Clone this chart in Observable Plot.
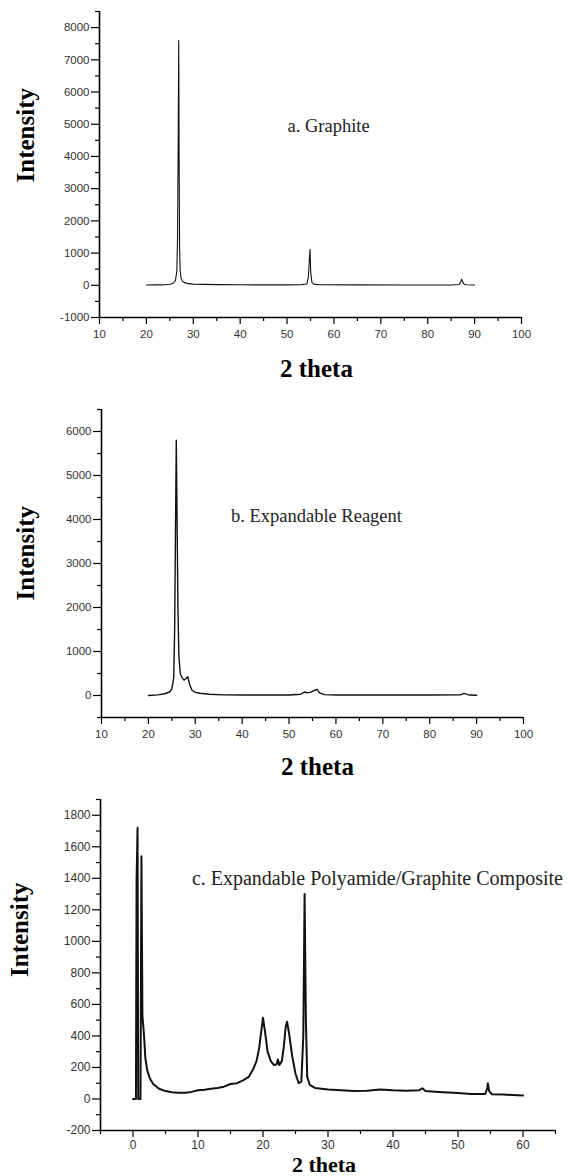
<!DOCTYPE html>
<html><head><meta charset="utf-8">
<script src="https://cdn.jsdelivr.net/npm/d3@7"></script>
<script src="https://cdn.jsdelivr.net/npm/@observablehq/plot@0.6"></script>
<style>
html,body{margin:0;padding:0;background:#fff;}
#chart{width:571px;}
#chart svg{display:block;}
g[aria-label="x-axis tick label"], g[aria-label="y-axis tick label"]{fill:#333;}
</style></head><body><div id="chart"></div>
<script>
// ---- Panel a: Graphite ----
const thetaA = [20, 22, 24, 25, 25.8, 26.2, 26.5, 26.65, 26.78, 26.9, 26.98, 27.08, 27.2, 27.4, 27.65, 28, 28.6, 30, 35, 40, 45, 50, 53, 54.2, 54.55, 54.75, 54.9, 55.05, 55.3, 55.7, 57, 65, 75, 85, 86.7, 87.0, 87.25, 87.45, 87.7, 88.2, 90];
const intensityA = [10, 12, 18, 30, 70, 150, 450, 1500, 4500, 7600, 4000, 1200, 450, 220, 140, 90, 60, 35, 20, 15, 12, 12, 15, 40, 250, 800, 1120, 400, 90, 35, 18, 12, 10, 10, 25, 90, 190, 110, 40, 15, 10];
const xTicksA = [10, 20, 30, 40, 50, 60, 70, 80, 90, 100];
const xMinorA = [15, 25, 35, 45, 55, 65, 75, 85, 95];
const yTicksA = [-1000, 0, 1000, 2000, 3000, 4000, 5000, 6000, 7000, 8000];
const yMinorA = [-500, 500, 1500, 2500, 3500, 4500, 5500, 6500, 7500, 8500];

// ---- Panel b: Expandable Reagent ----
const thetaB = [20, 22, 23.5, 24.5, 25.0, 25.4, 25.6, 25.8, 25.95, 26.1, 26.3, 26.5, 26.8, 27.2, 27.6, 28.0, 28.4, 28.8, 29.3, 30, 31, 33, 36, 40, 50, 52.5, 53.3, 53.8, 54.5, 55.5, 56, 56.5, 57.5, 60, 80, 86.5, 87.3, 87.8, 88.5, 90];
const intensityB = [0, 15, 40, 80, 150, 400, 1500, 4000, 5800, 4200, 2000, 900, 500, 400, 350, 380, 430, 250, 120, 70, 50, 30, 15, 10, 10, 30, 80, 60, 70, 120, 140, 60, 20, 10, 10, 15, 50, 30, 10, 5];
const xTicksB = [10, 20, 30, 40, 50, 60, 70, 80, 90, 100];
const xMinorB = [15, 25, 35, 45, 55, 65, 75, 85, 95];
const yTicksB = [0, 1000, 2000, 3000, 4000, 5000, 6000];
const yMinorB = [-500, 500, 1500, 2500, 3500, 4500, 5500, 6500];

// ---- Panel c: Expandable Polyamide/Graphite Composite ----
const thetaC = [0, 0.45, 0.55, 0.7, 0.8, 1.15, 1.3, 1.45, 1.7, 1.9, 2.2, 2.6, 3.1, 4, 5, 6, 7, 8, 9, 10, 11, 12, 13, 14, 15, 16, 17, 17.8, 18.5, 19.0, 19.4, 19.7, 20.0, 20.3, 20.7, 21.2, 21.7, 22.1, 22.3, 22.5, 22.9, 23.2, 23.5, 23.7, 24.0, 24.5, 25.0, 25.5, 25.9, 26.2, 26.4, 26.6, 26.8, 27.2, 28, 29, 30, 32, 34, 36, 38, 40, 42, 44, 44.5, 45, 47, 50, 52, 54.2, 54.5, 54.6, 54.8, 55.2, 57, 60];
const intensityC = [0, 0, 1380, 1720, 0, 0, 1540, 530, 400, 260, 180, 130, 95, 65, 50, 42, 40, 40, 45, 55, 58, 65, 70, 78, 95, 100, 120, 140, 190, 240, 320, 420, 515, 430, 300, 240, 215, 220, 250, 215, 240, 330, 460, 490, 420, 270, 160, 100, 110, 400, 1300, 500, 140, 90, 70, 65, 60, 55, 50, 52, 60, 55, 52, 55, 68, 50, 45, 38, 32, 32, 70, 100, 50, 30, 28, 22];
const xTicksC = [0, 10, 20, 30, 40, 50, 60];
const xMinorC = [-5, 5, 15, 25, 35, 45, 55, 65];
const yTicksC = [-200, 0, 200, 400, 600, 800, 1000, 1200, 1400, 1600, 1800];
const yMinorC = [-100, 100, 300, 500, 700, 900, 1100, 1300, 1500, 1700, 1900];

const xTitle = "2 theta";
const yTitle = "Intensity";

const serif = "'Liberation Serif', 'Times New Roman', serif";

function panel(o) {
  const data = o.theta.map((x, i) => ({x, y: o.intensity[i]}));
  return Plot.plot({
    width: 571,
    height: o.height,
    marginTop: o.m[0], marginRight: o.m[1], marginBottom: o.m[2], marginLeft: o.m[3],
    x: {domain: o.xDomain},
    y: {domain: o.yDomain},
    style: {fontFamily: "'Liberation Sans', Arial, sans-serif", fontSize: o.tickFont + "px", color: "#000", background: "#fff"},
    marks: [
      Plot.axisY({ticks: o.yMinor, tickSize: 4, tickFormat: () => "", label: null, strokeWidth: 1.2}),
      Plot.axisY({ticks: o.yTicks, tickSize: 8, tickPadding: 2, tickFormat: d => String(d), label: null, strokeWidth: 1.2}),
      Plot.axisX({ticks: o.xMinor, tickSize: 4, tickFormat: () => "", label: null, strokeWidth: 1.2}),
      Plot.axisX({ticks: o.xTicks, tickSize: 7, tickPadding: o.xPad || 5, tickFormat: d => String(d), label: null, strokeWidth: 1.2}),
      Plot.ruleX([o.xDomain[0]], {stroke: "#000", strokeWidth: 1.6}),
      Plot.ruleY([o.yDomain[0]], {stroke: "#000", strokeWidth: 1.6}),
      Plot.line(data, {x: "x", y: "y", stroke: "#111", strokeWidth: o.sw}),
      Plot.text([o.note], {x: o.noteX, y: o.noteY, text: d => d, textAnchor: "start", fontFamily: serif, fontSize: o.noteSize, fill: "#222"}),
      Plot.text([xTitle], {frameAnchor: "bottom", dx: o.xl[0], dy: o.xl[1], lineAnchor: "middle", fontFamily: serif, fontWeight: "bold", fontSize: o.xlSize || 25, fill: "#000"}),
      Plot.text([yTitle], {frameAnchor: "left", dx: o.yl[0], dy: o.yl[1], rotate: -90, lineAnchor: "middle", fontFamily: serif, fontWeight: "bold", fontSize: 25, fill: "#000"})
    ]
  });
}

const chart = document.getElementById("chart");
chart.append(panel({
  theta: thetaA, intensity: intensityA, height: 385, m: [11, 50, 68, 99],
  xDomain: [10, 100], yDomain: [-1000, 8500],
  xTicks: xTicksA, xMinor: xMinorA, yTicks: yTicksA, yMinor: yMinorA,
  tickFont: 11.5, sw: 1.1,
  note: "a. Graphite", noteX: 50.1, noteY: 4950, noteSize: 18.5,
  xl: [6, 51], yl: [-74, 18]
}));
chart.append(panel({
  theta: thetaB, intensity: intensityB, height: 395, m: [24, 48, 63, 101],
  xDomain: [10, 100], yDomain: [-500, 6500],
  xTicks: xTicksB, xMinor: xMinorB, yTicks: yTicksB, yMinor: yMinorB,
  tickFont: 11.5, sw: 1.4,
  note: "b. Expandable Reagent", noteX: 37.6, noteY: 4080, noteSize: 18.5,
  xl: [5, 49], yl: [-76, 37]
}));
chart.append(panel({
  theta: thetaC, intensity: intensityC, height: 396, m: [19, 16, 46, 100],
  xDomain: [-5, 65], yDomain: [-200, 1900],
  xTicks: xTicksC, xMinor: xMinorC, yTicks: yTicksC, yMinor: yMinorC,
  tickFont: 12, sw: 2.0, xPad: 3,
  note: "c. Expandable Polyamide/Graphite Composite", noteX: 9.06, noteY: 1399, noteSize: 20,
  xl: [-4, 34], xlSize: 22, yl: [-81, 12]
}));
</script></body></html>
